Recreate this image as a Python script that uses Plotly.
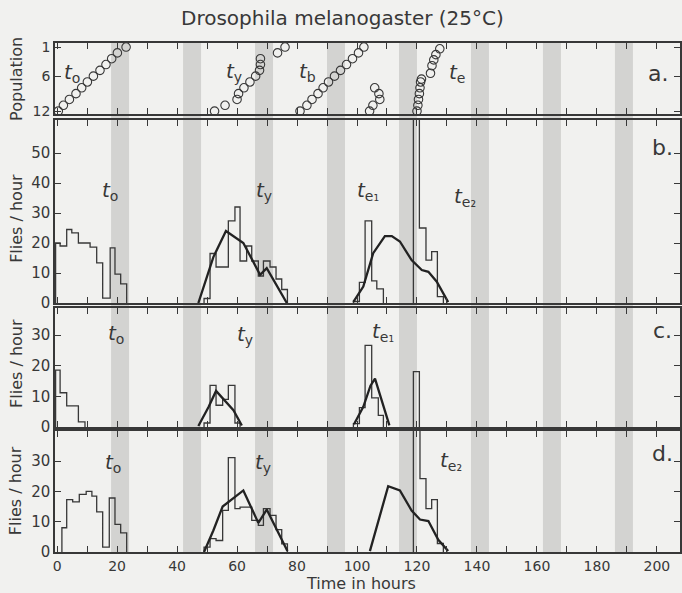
import plotly.graph_objects as go

# ---------------- data ----------------
dark_start = [18, 42, 66, 90, 114, 138, 162, 186]
dark_end = [24, 48, 72, 96, 120, 144, 168, 192]

# panel a: population (rank of individual vs. time)
a_o_time = [0.4, 2.1, 4.1, 6.3, 8.2, 10.1, 12.1, 14.3, 16.3, 18.2, 20.1, 23.0]
a_o_rank = [12, 11, 10, 9, 8, 7, 6, 5, 4, 3, 2, 1]
a_y_time = [52.5, 56.0, 60.0, 60.5, 62.3, 64.3, 66.2, 67.5, 67.8, 67.8, 73.5, 76.0]
a_y_rank = [12, 11, 10, 9, 8, 7, 6, 5, 4, 3, 2, 1]
a_b_time = [81.0, 83.3, 85.0, 87.0, 88.7, 90.5, 92.5, 94.5, 96.5, 98.5, 100.5, 102.3]
a_b_rank = [12, 11, 10, 9, 8, 7, 6, 5, 4, 3, 2, 1]
a_b2_time = [104.2, 105.3, 107.6, 107.3, 105.9]
a_b2_rank = [12, 11, 10, 9, 8]
a_e_time = [120.0, 120.3, 120.5, 120.8, 121.0, 121.2, 121.5, 124.5, 125.0, 125.6, 126.3, 127.6]
a_e_rank = [12, 11, 10, 9, 8, 7, 6.5, 5.5, 4.2, 3.2, 2.3, 1.3]

# panel b
b_o_edges = [-0.5, 1.0, 3.2, 4.9, 7.1, 11.0, 13.2, 15.2, 17.7, 19.3, 21.2, 23.2]
b_o_vals = [20, 19, 24.5, 23.4, 20, 18.6, 13.4, 1.6, 18.4, 9.6, 6.4]
b_y_edges = [49.0, 51.0, 53.0, 57.1, 59.3, 61.0, 63.2, 64.9, 67.1, 68.8, 71.0, 73.0, 74.9, 76.8]
b_y_vals = [1.5, 16.5, 12, 27.4, 32, 14, 19, 14, 9, 14, 12, 8, 4.5]
b_y_curve_x = [47.1, 52.1, 56.3, 62.1, 67.7, 69.9, 76.6]
b_y_curve_v = [0, 15.3, 24, 20, 9.4, 11.6, 0]
b_e1_edges = [98.8, 100.8, 102.7, 104.9, 106.6, 108.8]
b_e1_vals = [0.5, 6.9, 27.4, 7.4, 4.7]
b_e2_edges = [118.8, 120.8, 123.0, 124.9, 126.8, 128.8]
b_e2_vals = [80, 25, 14.3, 17.1, 2.1]
b_e_curve_x = [98.8, 102.1, 105.4, 109.3, 111.6, 114.3, 118.2, 121.6, 123.8, 126.6, 130.4]
b_e_curve_v = [0.4, 5.5, 16.6, 22.3, 22.3, 20.5, 14.3, 11.0, 10.4, 7.1, 0.3]

# panel c
c_o_edges = [-0.5, 1.0, 3.2, 7.1, 9.3]
c_o_vals = [18.6, 11.2, 6.9, 1.7]
c_y_edges = [49.0, 51.0, 53.0, 55.2, 57.1, 59.3, 61.0]
c_y_vals = [1.3, 13.6, 7.1, 9, 13.6, 1.3]
c_y_curve_x = [47.1, 50.5, 53.0, 55.5, 58.8, 61.6]
c_y_curve_v = [0.3, 6.5, 11.8, 9.0, 5.5, 0.5]
c_e1_edges = [98.8, 100.8, 102.7, 104.9, 107.1, 108.8]
c_e1_vals = [1.1, 6.3, 26.7, 9.5, 3.8]
c_e1_curve_x = [99.0, 102.1, 104.5, 106.0, 110.8]
c_e1_curve_v = [0.9, 6.6, 13.5, 15.8, 0.5]
c_spike_edges = [118.8, 120.8]
c_spike_vals = [18.1]

# panel d
d_o_edges = [1.6, 3.2, 5.2, 7.4, 9.7, 11.6, 13.2, 15.2, 17.4, 19.3, 21.2, 23.2]
d_o_vals = [8.0, 17.3, 16.5, 19, 20, 18.4, 13.2, 1.6, 17.8, 9.1, 6.3]
d_y_edges = [49.0, 51.0, 53.0, 55.2, 57.1, 59.3, 61.0, 63.2, 64.9, 67.1, 68.8, 71.0, 73.0, 74.9, 76.8]
d_y_vals = [1.6, 4.4, 3.8, 13.7, 31.1, 14.3, 14.8, 14.8, 10.4, 8.8, 14.3, 12.1, 7.4, 2.7]
d_y_curve_x = [49.0, 52.1, 55.2, 62.1, 67.1, 69.9, 76.8]
d_y_curve_v = [0, 7.1, 15, 20.3, 9.6, 14, 0.3]
d_e2_edges = [118.8, 121.0, 123.0, 124.9, 126.8, 128.8]
d_e2_vals = [80, 24.2, 14.3, 17.3, 2.8]
d_e_curve_x = [104.3, 110.4, 114.3, 118.2, 121.0, 123.8, 127.1, 130.4]
d_e_curve_v = [0.3, 21.7, 20.3, 13.7, 10.7, 10.2, 4.0, 0.3]

x_tick_vals = list(range(0, 210, 10))
x_tick_text = [str(v) if v % 20 == 0 else "" for v in x_tick_vals]

# ---------------- figure ----------------
INK = "#383838"
BG = "#f1f1ef"
FONT = "DejaVu Sans"

fig = go.Figure()


def steps(edges, vals, base=0):
    xs, ys = [edges[0]], [base]
    for i, v in enumerate(vals):
        xs += [edges[i], edges[i + 1]]
        ys += [v, v]
    xs.append(edges[-1])
    ys.append(base)
    return xs, ys


def add_hist(edges, vals, row, base=0):
    xs, ys = steps(edges, vals, base)
    fig.add_trace(go.Scatter(x=xs, y=ys, mode="lines",
                             line=dict(color=INK, width=1.3),
                             xaxis="x%d" % row, yaxis="y%d" % row,
                             showlegend=False, hoverinfo="skip"))


def add_curve(xs, ys, row):
    fig.add_trace(go.Scatter(x=xs, y=ys, mode="lines",
                             line=dict(color="#222", width=2.3),
                             xaxis="x%d" % row, yaxis="y%d" % row,
                             showlegend=False, hoverinfo="skip"))


for t, r in [(a_o_time, a_o_rank), (a_y_time, a_y_rank), (a_b_time, a_b_rank),
             (a_b2_time, a_b2_rank), (a_e_time, a_e_rank)]:
    fig.add_trace(go.Scatter(x=t, y=r, mode="markers",
                             marker=dict(symbol="circle-open", size=8.5,
                                         color=INK, line=dict(width=1.1)),
                             xaxis="x", yaxis="y", showlegend=False))

add_hist(b_o_edges, b_o_vals, 2)
add_hist(b_y_edges, b_y_vals, 2)
add_hist(b_e1_edges, b_e1_vals, 2)
add_hist(b_e2_edges, b_e2_vals, 2)
add_curve(b_y_curve_x, b_y_curve_v, 2)
add_curve(b_e_curve_x, b_e_curve_v, 2)

add_hist(c_o_edges, c_o_vals, 3)
add_hist(c_y_edges, c_y_vals, 3)
add_hist(c_e1_edges, c_e1_vals, 3)
add_hist(c_spike_edges, c_spike_vals, 3, base=-6)
add_curve(c_y_curve_x, c_y_curve_v, 3)
add_curve(c_e1_curve_x, c_e1_curve_v, 3)

add_hist(d_o_edges, d_o_vals, 4)
add_hist(d_y_edges, d_y_vals, 4)
add_hist(d_e2_edges, d_e2_vals, 4)
add_curve(d_y_curve_x, d_y_curve_v, 4)
add_curve(d_e_curve_x, d_e_curve_v, 4)

# dark-period bands
for s, e in zip(dark_start, dark_end):
    fig.add_shape(type="rect", xref="x", yref="paper", x0=s, x1=e, y0=0, y1=1,
                  fillcolor="#d3d3d1", line=dict(width=0), layer="below")

domains = {1: [0.8605, 1.0], 2: [0.4892, 0.8487], 3: [0.2456, 0.4794], 4: [0.0, 0.2377]}
yranges = {1: [12.5, 0.3], 2: [0, 61], 3: [0, 38.9], 4: [0, 39.9]}
yticks = {1: [1, 6, 12], 2: [0, 10, 20, 30, 40, 50], 3: [0, 10, 20, 30], 4: [0, 10, 20, 30]}

layout = dict(
    width=682, height=593, autosize=False,
    margin=dict(l=55, r=2, t=43, b=41, pad=0, autoexpand=False),
    paper_bgcolor=BG, plot_bgcolor="rgba(0,0,0,0)",
    font=dict(family=FONT, color=INK, size=15),
    showlegend=False,
)
for r in range(1, 5):
    sx = "" if r == 1 else str(r)
    xa = dict(
        range=[-0.7, 207.7], domain=[0, 1], anchor="y" + sx, automargin=False,
        tickmode="array", tickvals=x_tick_vals, ticktext=x_tick_text,
        showticklabels=(r == 4), ticks="inside", ticklen=6, tickwidth=1.2,
        tickcolor=INK, showline=True, linecolor=INK, linewidth=1.5, mirror="ticks",
        showgrid=False, zeroline=False, tickfont=dict(size=14),
    )
    if r > 1:
        xa["matches"] = "x"
    layout["xaxis" + sx] = xa
    layout["yaxis" + sx] = dict(
        domain=domains[r], range=yranges[r], anchor="x" + sx, automargin=False,
        tickmode="array", tickvals=yticks[r], ticks="inside", ticklen=6,
        tickwidth=1.2, tickcolor=INK, showline=True, linecolor=INK, linewidth=1.5,
        mirror="ticks", showgrid=False, zeroline=False,
        tickfont=dict(size=15 if r > 1 else 14),
    )
fig.update_layout(**layout)

ann = []


def lab(text, x, y, r, size=20):
    sx = "" if r == 1 else str(r)
    ann.append(dict(text=text, x=x, y=y, xref="x" + sx, yref="y" + sx,
                    showarrow=False, font=dict(size=size, family=FONT, color=INK),
                    xanchor="center", yanchor="middle"))


lab("<i>t</i><sub>o</sub>", 5, 5.5, 1)
lab("<i>t</i><sub>y</sub>", 59, 5.2, 1)
lab("<i>t</i><sub>b</sub>", 83.5, 5.2, 1)
lab("<i>t</i><sub>e</sub>", 133.5, 5.5, 1)
lab("a.", 200.5, 5.5, 1, size=22)

lab("<i>t</i><sub>o</sub>", 17.5, 37.5, 2)
lab("<i>t</i><sub>y</sub>", 69, 37.5, 2)
lab("<i>t</i><sub>e₁</sub>", 103.5, 37.5, 2)
lab("<i>t</i><sub>e₂</sub>", 136, 35.5, 2)
lab("b.", 202, 52, 2, size=22)

lab("<i>t</i><sub>o</sub>", 19.5, 30.5, 3)
lab("<i>t</i><sub>y</sub>", 62.5, 30, 3)
lab("<i>t</i><sub>e₁</sub>", 108.5, 31, 3)
lab("c.", 202, 31.5, 3, size=22)

lab("<i>t</i><sub>o</sub>", 18.5, 29.5, 4)
lab("<i>t</i><sub>y</sub>", 68.5, 29.2, 4)
lab("<i>t</i><sub>e₂</sub>", 131.5, 30, 4)
lab("d.", 202, 32.5, 4, size=22)

# titles
ann.append(dict(text="Drosophila melanogaster (25°C)", xref="paper", yref="paper",
                x=0.46, y=1.0, yshift=25, xanchor="center", yanchor="middle",
                showarrow=False, font=dict(size=20, family=FONT, color=INK)))
ann.append(dict(text="Time in hours", xref="paper", yref="paper", x=0.49, y=0,
                yshift=-31, xanchor="center", yanchor="middle", showarrow=False,
                font=dict(size=16, family=FONT, color=INK)))
for txt, yc in [("Population", 0.93), ("Flies / hour", 0.655), ("Flies / hour", 0.37),
                ("Flies / hour", 0.12)]:
    ann.append(dict(text=txt, xref="paper", yref="paper", x=-0.062, y=yc,
                    xanchor="center", yanchor="middle", textangle=-90, showarrow=False,
                    font=dict(size=16, family=FONT, color=INK)))

fig.update_layout(annotations=ann)
fig.write_html(
    "out.html",
    config={"displayModeBar": False},
    post_script="document.body.style.margin='0';document.body.style.background='%s';" % BG,
)
